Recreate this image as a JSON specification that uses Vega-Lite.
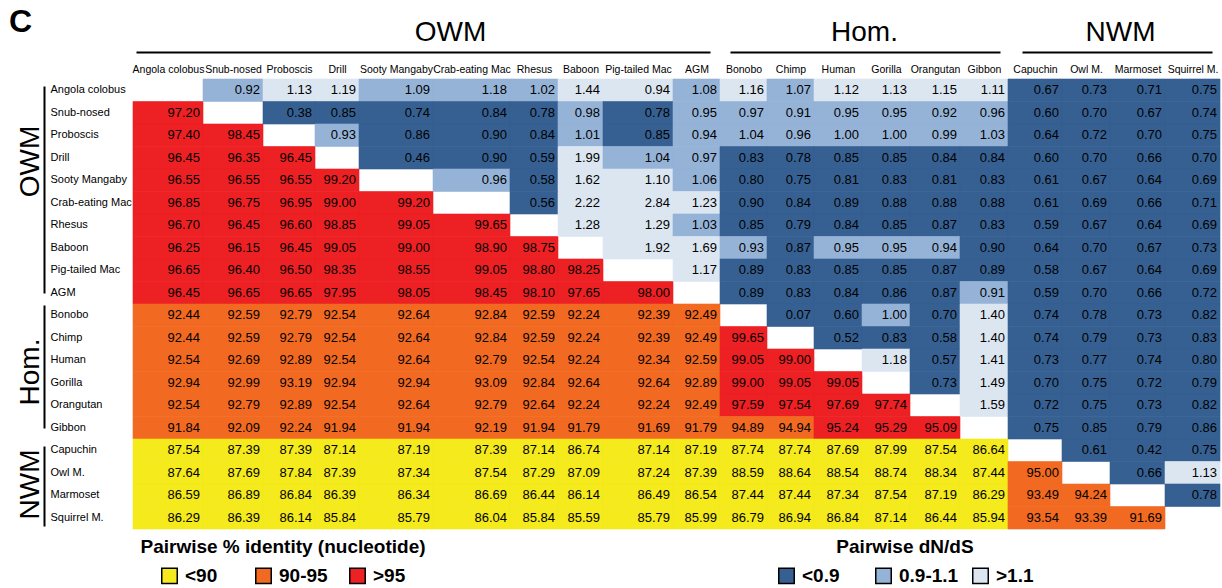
{
  "$schema": "https://vega.github.io/schema/vega-lite/v6.json",
  "background": "white",
  "padding": {"left": 9, "top": 6, "right": 0, "bottom": 0},
  "title": {"text": "C", "anchor": "start", "fontSize": 32, "fontWeight": "bold", "font": "Liberation Sans", "color": "#000", "offset": -21, "dx": -7},
  "datasets": {
    "species": [
      {"id": 0, "name": "Angola colobus", "g": "OWM", "hi": 1},
      {"id": 1, "name": "Snub-nosed", "g": "OWM", "hi": 2},
      {"id": 2, "name": "Proboscis", "g": "OWM", "hi": 3},
      {"id": 3, "name": "Drill", "g": "OWM", "hi": 4},
      {"id": 4, "name": "Sooty Mangaby", "g": "OWM", "hi": 5},
      {"id": 5, "name": "Crab-eating Mac", "g": "OWM", "hi": 6},
      {"id": 6, "name": "Rhesus", "g": "OWM", "hi": 7},
      {"id": 7, "name": "Baboon", "g": "OWM", "hi": 8},
      {"id": 8, "name": "Pig-tailed Mac", "g": "OWM", "hi": 9},
      {"id": 9, "name": "AGM", "g": "OWM", "hi": 10},
      {"id": 10, "name": "Bonobo", "g": "Hom", "hi": 11},
      {"id": 11, "name": "Chimp", "g": "Hom", "hi": 12},
      {"id": 12, "name": "Human", "g": "Hom", "hi": 13},
      {"id": 13, "name": "Gorilla", "g": "Hom", "hi": 14},
      {"id": 14, "name": "Orangutan", "g": "Hom", "hi": 15},
      {"id": 15, "name": "Gibbon", "g": "Hom", "hi": 16},
      {"id": 16, "name": "Capuchin", "g": "NWM", "hi": 17},
      {"id": 17, "name": "Owl M.", "g": "NWM", "hi": 18},
      {"id": 18, "name": "Marmoset", "g": "NWM", "hi": 19},
      {"id": 19, "name": "Squirrel M.", "g": "NWM", "hi": 20}
    ],
    "cells": [
      {"r":0,"c":1,"v":0.92,"k":"0.9-1.1"},{"r":0,"c":2,"v":1.13,"k":">1.1"},{"r":0,"c":3,"v":1.19,"k":">1.1"},{"r":0,"c":4,"v":1.09,"k":"0.9-1.1"},{"r":0,"c":5,"v":1.18,"k":"0.9-1.1"},{"r":0,"c":6,"v":1.02,"k":"0.9-1.1"},{"r":0,"c":7,"v":1.44,"k":">1.1"},{"r":0,"c":8,"v":0.94,"k":">1.1"},{"r":0,"c":9,"v":1.08,"k":"0.9-1.1"},{"r":0,"c":10,"v":1.16,"k":">1.1"},{"r":0,"c":11,"v":1.07,"k":"0.9-1.1"},{"r":0,"c":12,"v":1.12,"k":">1.1"},{"r":0,"c":13,"v":1.13,"k":">1.1"},{"r":0,"c":14,"v":1.15,"k":">1.1"},{"r":0,"c":15,"v":1.11,"k":">1.1"},{"r":0,"c":16,"v":0.67,"k":"<0.9"},{"r":0,"c":17,"v":0.73,"k":"<0.9"},{"r":0,"c":18,"v":0.71,"k":"<0.9"},{"r":0,"c":19,"v":0.75,"k":"<0.9"},

      {"r":1,"c":0,"v":97.2,"k":">95"},
      {"r":1,"c":2,"v":0.38,"k":"<0.9"},{"r":1,"c":3,"v":0.85,"k":"<0.9"},{"r":1,"c":4,"v":0.74,"k":"<0.9"},{"r":1,"c":5,"v":0.84,"k":"<0.9"},{"r":1,"c":6,"v":0.78,"k":"<0.9"},{"r":1,"c":7,"v":0.98,"k":"0.9-1.1"},{"r":1,"c":8,"v":0.78,"k":"<0.9"},{"r":1,"c":9,"v":0.95,"k":"0.9-1.1"},{"r":1,"c":10,"v":0.97,"k":"0.9-1.1"},{"r":1,"c":11,"v":0.91,"k":"0.9-1.1"},{"r":1,"c":12,"v":0.95,"k":"0.9-1.1"},{"r":1,"c":13,"v":0.95,"k":"0.9-1.1"},{"r":1,"c":14,"v":0.92,"k":"0.9-1.1"},{"r":1,"c":15,"v":0.96,"k":"0.9-1.1"},{"r":1,"c":16,"v":0.60,"k":"<0.9"},{"r":1,"c":17,"v":0.70,"k":"<0.9"},{"r":1,"c":18,"v":0.67,"k":"<0.9"},{"r":1,"c":19,"v":0.74,"k":"<0.9"},

      {"r":2,"c":0,"v":97.4,"k":">95"},{"r":2,"c":1,"v":98.45,"k":">95"},
      {"r":2,"c":3,"v":0.93,"k":"0.9-1.1"},{"r":2,"c":4,"v":0.86,"k":"<0.9"},{"r":2,"c":5,"v":0.90,"k":"<0.9"},{"r":2,"c":6,"v":0.84,"k":"<0.9"},{"r":2,"c":7,"v":1.01,"k":"0.9-1.1"},{"r":2,"c":8,"v":0.85,"k":"<0.9"},{"r":2,"c":9,"v":0.94,"k":"0.9-1.1"},{"r":2,"c":10,"v":1.04,"k":"0.9-1.1"},{"r":2,"c":11,"v":0.96,"k":"0.9-1.1"},{"r":2,"c":12,"v":1.00,"k":"0.9-1.1"},{"r":2,"c":13,"v":1.00,"k":"0.9-1.1"},{"r":2,"c":14,"v":0.99,"k":"0.9-1.1"},{"r":2,"c":15,"v":1.03,"k":"0.9-1.1"},{"r":2,"c":16,"v":0.64,"k":"<0.9"},{"r":2,"c":17,"v":0.72,"k":"<0.9"},{"r":2,"c":18,"v":0.70,"k":"<0.9"},{"r":2,"c":19,"v":0.75,"k":"<0.9"},

      {"r":3,"c":0,"v":96.45,"k":">95"},{"r":3,"c":1,"v":96.35,"k":">95"},{"r":3,"c":2,"v":96.45,"k":">95"},
      {"r":3,"c":4,"v":0.46,"k":"<0.9"},{"r":3,"c":5,"v":0.90,"k":"<0.9"},{"r":3,"c":6,"v":0.59,"k":"<0.9"},{"r":3,"c":7,"v":1.99,"k":">1.1"},{"r":3,"c":8,"v":1.04,"k":"0.9-1.1"},{"r":3,"c":9,"v":0.97,"k":"0.9-1.1"},{"r":3,"c":10,"v":0.83,"k":"<0.9"},{"r":3,"c":11,"v":0.78,"k":"<0.9"},{"r":3,"c":12,"v":0.85,"k":"<0.9"},{"r":3,"c":13,"v":0.85,"k":"<0.9"},{"r":3,"c":14,"v":0.84,"k":"<0.9"},{"r":3,"c":15,"v":0.84,"k":"<0.9"},{"r":3,"c":16,"v":0.60,"k":"<0.9"},{"r":3,"c":17,"v":0.70,"k":"<0.9"},{"r":3,"c":18,"v":0.66,"k":"<0.9"},{"r":3,"c":19,"v":0.70,"k":"<0.9"},

      {"r":4,"c":0,"v":96.55,"k":">95"},{"r":4,"c":1,"v":96.55,"k":">95"},{"r":4,"c":2,"v":96.55,"k":">95"},{"r":4,"c":3,"v":99.2,"k":">95"},
      {"r":4,"c":5,"v":0.96,"k":"0.9-1.1"},{"r":4,"c":6,"v":0.58,"k":"<0.9"},{"r":4,"c":7,"v":1.62,"k":">1.1"},{"r":4,"c":8,"v":1.10,"k":">1.1"},{"r":4,"c":9,"v":1.06,"k":"0.9-1.1"},{"r":4,"c":10,"v":0.80,"k":"<0.9"},{"r":4,"c":11,"v":0.75,"k":"<0.9"},{"r":4,"c":12,"v":0.81,"k":"<0.9"},{"r":4,"c":13,"v":0.83,"k":"<0.9"},{"r":4,"c":14,"v":0.81,"k":"<0.9"},{"r":4,"c":15,"v":0.83,"k":"<0.9"},{"r":4,"c":16,"v":0.61,"k":"<0.9"},{"r":4,"c":17,"v":0.67,"k":"<0.9"},{"r":4,"c":18,"v":0.64,"k":"<0.9"},{"r":4,"c":19,"v":0.69,"k":"<0.9"},

      {"r":5,"c":0,"v":96.85,"k":">95"},{"r":5,"c":1,"v":96.75,"k":">95"},{"r":5,"c":2,"v":96.95,"k":">95"},{"r":5,"c":3,"v":99.0,"k":">95"},{"r":5,"c":4,"v":99.2,"k":">95"},
      {"r":5,"c":6,"v":0.56,"k":"<0.9"},{"r":5,"c":7,"v":2.22,"k":">1.1"},{"r":5,"c":8,"v":2.84,"k":">1.1"},{"r":5,"c":9,"v":1.23,"k":">1.1"},{"r":5,"c":10,"v":0.90,"k":"<0.9"},{"r":5,"c":11,"v":0.84,"k":"<0.9"},{"r":5,"c":12,"v":0.89,"k":"<0.9"},{"r":5,"c":13,"v":0.88,"k":"<0.9"},{"r":5,"c":14,"v":0.88,"k":"<0.9"},{"r":5,"c":15,"v":0.88,"k":"<0.9"},{"r":5,"c":16,"v":0.61,"k":"<0.9"},{"r":5,"c":17,"v":0.69,"k":"<0.9"},{"r":5,"c":18,"v":0.66,"k":"<0.9"},{"r":5,"c":19,"v":0.71,"k":"<0.9"},

      {"r":6,"c":0,"v":96.7,"k":">95"},{"r":6,"c":1,"v":96.45,"k":">95"},{"r":6,"c":2,"v":96.6,"k":">95"},{"r":6,"c":3,"v":98.85,"k":">95"},{"r":6,"c":4,"v":99.05,"k":">95"},{"r":6,"c":5,"v":99.65,"k":">95"},
      {"r":6,"c":7,"v":1.28,"k":">1.1"},{"r":6,"c":8,"v":1.29,"k":">1.1"},{"r":6,"c":9,"v":1.03,"k":"0.9-1.1"},{"r":6,"c":10,"v":0.85,"k":"<0.9"},{"r":6,"c":11,"v":0.79,"k":"<0.9"},{"r":6,"c":12,"v":0.84,"k":"<0.9"},{"r":6,"c":13,"v":0.85,"k":"<0.9"},{"r":6,"c":14,"v":0.87,"k":"<0.9"},{"r":6,"c":15,"v":0.83,"k":"<0.9"},{"r":6,"c":16,"v":0.59,"k":"<0.9"},{"r":6,"c":17,"v":0.67,"k":"<0.9"},{"r":6,"c":18,"v":0.64,"k":"<0.9"},{"r":6,"c":19,"v":0.69,"k":"<0.9"},

      {"r":7,"c":0,"v":96.25,"k":">95"},{"r":7,"c":1,"v":96.15,"k":">95"},{"r":7,"c":2,"v":96.45,"k":">95"},{"r":7,"c":3,"v":99.05,"k":">95"},{"r":7,"c":4,"v":99.0,"k":">95"},{"r":7,"c":5,"v":98.9,"k":">95"},{"r":7,"c":6,"v":98.75,"k":">95"},
      {"r":7,"c":8,"v":1.92,"k":">1.1"},{"r":7,"c":9,"v":1.69,"k":">1.1"},{"r":7,"c":10,"v":0.93,"k":"0.9-1.1"},{"r":7,"c":11,"v":0.87,"k":"<0.9"},{"r":7,"c":12,"v":0.95,"k":"0.9-1.1"},{"r":7,"c":13,"v":0.95,"k":"0.9-1.1"},{"r":7,"c":14,"v":0.94,"k":"0.9-1.1"},{"r":7,"c":15,"v":0.90,"k":"<0.9"},{"r":7,"c":16,"v":0.64,"k":"<0.9"},{"r":7,"c":17,"v":0.70,"k":"<0.9"},{"r":7,"c":18,"v":0.67,"k":"<0.9"},{"r":7,"c":19,"v":0.73,"k":"<0.9"},

      {"r":8,"c":0,"v":96.65,"k":">95"},{"r":8,"c":1,"v":96.4,"k":">95"},{"r":8,"c":2,"v":96.5,"k":">95"},{"r":8,"c":3,"v":98.35,"k":">95"},{"r":8,"c":4,"v":98.55,"k":">95"},{"r":8,"c":5,"v":99.05,"k":">95"},{"r":8,"c":6,"v":98.8,"k":">95"},{"r":8,"c":7,"v":98.25,"k":">95"},
      {"r":8,"c":9,"v":1.17,"k":">1.1"},{"r":8,"c":10,"v":0.89,"k":"<0.9"},{"r":8,"c":11,"v":0.83,"k":"<0.9"},{"r":8,"c":12,"v":0.85,"k":"<0.9"},{"r":8,"c":13,"v":0.85,"k":"<0.9"},{"r":8,"c":14,"v":0.87,"k":"<0.9"},{"r":8,"c":15,"v":0.89,"k":"<0.9"},{"r":8,"c":16,"v":0.58,"k":"<0.9"},{"r":8,"c":17,"v":0.67,"k":"<0.9"},{"r":8,"c":18,"v":0.64,"k":"<0.9"},{"r":8,"c":19,"v":0.69,"k":"<0.9"},

      {"r":9,"c":0,"v":96.45,"k":">95"},{"r":9,"c":1,"v":96.65,"k":">95"},{"r":9,"c":2,"v":96.65,"k":">95"},{"r":9,"c":3,"v":97.95,"k":">95"},{"r":9,"c":4,"v":98.05,"k":">95"},{"r":9,"c":5,"v":98.45,"k":">95"},{"r":9,"c":6,"v":98.1,"k":">95"},{"r":9,"c":7,"v":97.65,"k":">95"},{"r":9,"c":8,"v":98.0,"k":">95"},
      {"r":9,"c":10,"v":0.89,"k":"<0.9"},{"r":9,"c":11,"v":0.83,"k":"<0.9"},{"r":9,"c":12,"v":0.84,"k":"<0.9"},{"r":9,"c":13,"v":0.86,"k":"<0.9"},{"r":9,"c":14,"v":0.87,"k":"<0.9"},{"r":9,"c":15,"v":0.91,"k":"0.9-1.1"},{"r":9,"c":16,"v":0.59,"k":"<0.9"},{"r":9,"c":17,"v":0.70,"k":"<0.9"},{"r":9,"c":18,"v":0.66,"k":"<0.9"},{"r":9,"c":19,"v":0.72,"k":"<0.9"},

      {"r":10,"c":0,"v":92.44,"k":"90-95"},{"r":10,"c":1,"v":92.59,"k":"90-95"},{"r":10,"c":2,"v":92.79,"k":"90-95"},{"r":10,"c":3,"v":92.54,"k":"90-95"},{"r":10,"c":4,"v":92.64,"k":"90-95"},{"r":10,"c":5,"v":92.84,"k":"90-95"},{"r":10,"c":6,"v":92.59,"k":"90-95"},{"r":10,"c":7,"v":92.24,"k":"90-95"},{"r":10,"c":8,"v":92.39,"k":"90-95"},{"r":10,"c":9,"v":92.49,"k":"90-95"},
      {"r":10,"c":11,"v":0.07,"k":"<0.9"},{"r":10,"c":12,"v":0.60,"k":"<0.9"},{"r":10,"c":13,"v":1.00,"k":"0.9-1.1"},{"r":10,"c":14,"v":0.70,"k":"<0.9"},{"r":10,"c":15,"v":1.40,"k":">1.1"},{"r":10,"c":16,"v":0.74,"k":"<0.9"},{"r":10,"c":17,"v":0.78,"k":"<0.9"},{"r":10,"c":18,"v":0.73,"k":"<0.9"},{"r":10,"c":19,"v":0.82,"k":"<0.9"},

      {"r":11,"c":0,"v":92.44,"k":"90-95"},{"r":11,"c":1,"v":92.59,"k":"90-95"},{"r":11,"c":2,"v":92.79,"k":"90-95"},{"r":11,"c":3,"v":92.54,"k":"90-95"},{"r":11,"c":4,"v":92.64,"k":"90-95"},{"r":11,"c":5,"v":92.84,"k":"90-95"},{"r":11,"c":6,"v":92.59,"k":"90-95"},{"r":11,"c":7,"v":92.24,"k":"90-95"},{"r":11,"c":8,"v":92.39,"k":"90-95"},{"r":11,"c":9,"v":92.49,"k":"90-95"},{"r":11,"c":10,"v":99.65,"k":">95"},
      {"r":11,"c":12,"v":0.52,"k":"<0.9"},{"r":11,"c":13,"v":0.83,"k":"<0.9"},{"r":11,"c":14,"v":0.58,"k":"<0.9"},{"r":11,"c":15,"v":1.40,"k":">1.1"},{"r":11,"c":16,"v":0.74,"k":"<0.9"},{"r":11,"c":17,"v":0.79,"k":"<0.9"},{"r":11,"c":18,"v":0.73,"k":"<0.9"},{"r":11,"c":19,"v":0.83,"k":"<0.9"},

      {"r":12,"c":0,"v":92.54,"k":"90-95"},{"r":12,"c":1,"v":92.69,"k":"90-95"},{"r":12,"c":2,"v":92.89,"k":"90-95"},{"r":12,"c":3,"v":92.54,"k":"90-95"},{"r":12,"c":4,"v":92.64,"k":"90-95"},{"r":12,"c":5,"v":92.79,"k":"90-95"},{"r":12,"c":6,"v":92.54,"k":"90-95"},{"r":12,"c":7,"v":92.24,"k":"90-95"},{"r":12,"c":8,"v":92.34,"k":"90-95"},{"r":12,"c":9,"v":92.59,"k":"90-95"},{"r":12,"c":10,"v":99.05,"k":">95"},{"r":12,"c":11,"v":99.0,"k":">95"},
      {"r":12,"c":13,"v":1.18,"k":">1.1"},{"r":12,"c":14,"v":0.57,"k":"<0.9"},{"r":12,"c":15,"v":1.41,"k":">1.1"},{"r":12,"c":16,"v":0.73,"k":"<0.9"},{"r":12,"c":17,"v":0.77,"k":"<0.9"},{"r":12,"c":18,"v":0.74,"k":"<0.9"},{"r":12,"c":19,"v":0.80,"k":"<0.9"},

      {"r":13,"c":0,"v":92.94,"k":"90-95"},{"r":13,"c":1,"v":92.99,"k":"90-95"},{"r":13,"c":2,"v":93.19,"k":"90-95"},{"r":13,"c":3,"v":92.94,"k":"90-95"},{"r":13,"c":4,"v":92.94,"k":"90-95"},{"r":13,"c":5,"v":93.09,"k":"90-95"},{"r":13,"c":6,"v":92.84,"k":"90-95"},{"r":13,"c":7,"v":92.64,"k":"90-95"},{"r":13,"c":8,"v":92.64,"k":"90-95"},{"r":13,"c":9,"v":92.89,"k":"90-95"},{"r":13,"c":10,"v":99.0,"k":">95"},{"r":13,"c":11,"v":99.05,"k":">95"},{"r":13,"c":12,"v":99.05,"k":">95"},
      {"r":13,"c":14,"v":0.73,"k":"<0.9"},{"r":13,"c":15,"v":1.49,"k":">1.1"},{"r":13,"c":16,"v":0.70,"k":"<0.9"},{"r":13,"c":17,"v":0.75,"k":"<0.9"},{"r":13,"c":18,"v":0.72,"k":"<0.9"},{"r":13,"c":19,"v":0.79,"k":"<0.9"},

      {"r":14,"c":0,"v":92.54,"k":"90-95"},{"r":14,"c":1,"v":92.79,"k":"90-95"},{"r":14,"c":2,"v":92.89,"k":"90-95"},{"r":14,"c":3,"v":92.54,"k":"90-95"},{"r":14,"c":4,"v":92.64,"k":"90-95"},{"r":14,"c":5,"v":92.79,"k":"90-95"},{"r":14,"c":6,"v":92.64,"k":"90-95"},{"r":14,"c":7,"v":92.24,"k":"90-95"},{"r":14,"c":8,"v":92.24,"k":"90-95"},{"r":14,"c":9,"v":92.49,"k":"90-95"},{"r":14,"c":10,"v":97.59,"k":">95"},{"r":14,"c":11,"v":97.54,"k":">95"},{"r":14,"c":12,"v":97.69,"k":">95"},{"r":14,"c":13,"v":97.74,"k":">95"},
      {"r":14,"c":15,"v":1.59,"k":">1.1"},{"r":14,"c":16,"v":0.72,"k":"<0.9"},{"r":14,"c":17,"v":0.75,"k":"<0.9"},{"r":14,"c":18,"v":0.73,"k":"<0.9"},{"r":14,"c":19,"v":0.82,"k":"<0.9"},

      {"r":15,"c":0,"v":91.84,"k":"90-95"},{"r":15,"c":1,"v":92.09,"k":"90-95"},{"r":15,"c":2,"v":92.24,"k":"90-95"},{"r":15,"c":3,"v":91.94,"k":"90-95"},{"r":15,"c":4,"v":91.94,"k":"90-95"},{"r":15,"c":5,"v":92.19,"k":"90-95"},{"r":15,"c":6,"v":91.94,"k":"90-95"},{"r":15,"c":7,"v":91.79,"k":"90-95"},{"r":15,"c":8,"v":91.69,"k":"90-95"},{"r":15,"c":9,"v":91.79,"k":"90-95"},{"r":15,"c":10,"v":94.89,"k":"90-95"},{"r":15,"c":11,"v":94.94,"k":"90-95"},{"r":15,"c":12,"v":95.24,"k":">95"},{"r":15,"c":13,"v":95.29,"k":">95"},{"r":15,"c":14,"v":95.09,"k":">95"},
      {"r":15,"c":16,"v":0.75,"k":"<0.9"},{"r":15,"c":17,"v":0.85,"k":"<0.9"},{"r":15,"c":18,"v":0.79,"k":"<0.9"},{"r":15,"c":19,"v":0.86,"k":"<0.9"},

      {"r":16,"c":0,"v":87.54,"k":"<90"},{"r":16,"c":1,"v":87.39,"k":"<90"},{"r":16,"c":2,"v":87.39,"k":"<90"},{"r":16,"c":3,"v":87.14,"k":"<90"},{"r":16,"c":4,"v":87.19,"k":"<90"},{"r":16,"c":5,"v":87.39,"k":"<90"},{"r":16,"c":6,"v":87.14,"k":"<90"},{"r":16,"c":7,"v":86.74,"k":"<90"},{"r":16,"c":8,"v":87.14,"k":"<90"},{"r":16,"c":9,"v":87.19,"k":"<90"},{"r":16,"c":10,"v":87.74,"k":"<90"},{"r":16,"c":11,"v":87.74,"k":"<90"},{"r":16,"c":12,"v":87.69,"k":"<90"},{"r":16,"c":13,"v":87.99,"k":"<90"},{"r":16,"c":14,"v":87.54,"k":"<90"},{"r":16,"c":15,"v":86.64,"k":"<90"},
      {"r":16,"c":17,"v":0.61,"k":"<0.9"},{"r":16,"c":18,"v":0.42,"k":"<0.9"},{"r":16,"c":19,"v":0.75,"k":"<0.9"},

      {"r":17,"c":0,"v":87.64,"k":"<90"},{"r":17,"c":1,"v":87.69,"k":"<90"},{"r":17,"c":2,"v":87.84,"k":"<90"},{"r":17,"c":3,"v":87.39,"k":"<90"},{"r":17,"c":4,"v":87.34,"k":"<90"},{"r":17,"c":5,"v":87.54,"k":"<90"},{"r":17,"c":6,"v":87.29,"k":"<90"},{"r":17,"c":7,"v":87.09,"k":"<90"},{"r":17,"c":8,"v":87.24,"k":"<90"},{"r":17,"c":9,"v":87.39,"k":"<90"},{"r":17,"c":10,"v":88.59,"k":"<90"},{"r":17,"c":11,"v":88.64,"k":"<90"},{"r":17,"c":12,"v":88.54,"k":"<90"},{"r":17,"c":13,"v":88.74,"k":"<90"},{"r":17,"c":14,"v":88.34,"k":"<90"},{"r":17,"c":15,"v":87.44,"k":"<90"},{"r":17,"c":16,"v":95.0,"k":"90-95"},
      {"r":17,"c":18,"v":0.66,"k":"<0.9"},{"r":17,"c":19,"v":1.13,"k":">1.1"},

      {"r":18,"c":0,"v":86.59,"k":"<90"},{"r":18,"c":1,"v":86.89,"k":"<90"},{"r":18,"c":2,"v":86.84,"k":"<90"},{"r":18,"c":3,"v":86.39,"k":"<90"},{"r":18,"c":4,"v":86.34,"k":"<90"},{"r":18,"c":5,"v":86.69,"k":"<90"},{"r":18,"c":6,"v":86.44,"k":"<90"},{"r":18,"c":7,"v":86.14,"k":"<90"},{"r":18,"c":8,"v":86.49,"k":"<90"},{"r":18,"c":9,"v":86.54,"k":"<90"},{"r":18,"c":10,"v":87.44,"k":"<90"},{"r":18,"c":11,"v":87.44,"k":"<90"},{"r":18,"c":12,"v":87.34,"k":"<90"},{"r":18,"c":13,"v":87.54,"k":"<90"},{"r":18,"c":14,"v":87.19,"k":"<90"},{"r":18,"c":15,"v":86.29,"k":"<90"},{"r":18,"c":16,"v":93.49,"k":"90-95"},{"r":18,"c":17,"v":94.24,"k":"90-95"},
      {"r":18,"c":19,"v":0.78,"k":"<0.9"},

      {"r":19,"c":0,"v":86.29,"k":"<90"},{"r":19,"c":1,"v":86.39,"k":"<90"},{"r":19,"c":2,"v":86.14,"k":"<90"},{"r":19,"c":3,"v":85.84,"k":"<90"},{"r":19,"c":4,"v":85.79,"k":"<90"},{"r":19,"c":5,"v":86.04,"k":"<90"},{"r":19,"c":6,"v":85.84,"k":"<90"},{"r":19,"c":7,"v":85.59,"k":"<90"},{"r":19,"c":8,"v":85.79,"k":"<90"},{"r":19,"c":9,"v":85.99,"k":"<90"},{"r":19,"c":10,"v":86.79,"k":"<90"},{"r":19,"c":11,"v":86.94,"k":"<90"},{"r":19,"c":12,"v":86.84,"k":"<90"},{"r":19,"c":13,"v":87.14,"k":"<90"},{"r":19,"c":14,"v":86.44,"k":"<90"},{"r":19,"c":15,"v":85.94,"k":"<90"},{"r":19,"c":16,"v":93.54,"k":"90-95"},{"r":19,"c":17,"v":93.39,"k":"90-95"},{"r":19,"c":18,"v":91.69,"k":"90-95"}
    ]
  },
  "data": {"name": "cells"},
  "transform": [
    {"lookup": "c", "from": {"data": {"name": "species"}, "key": "id", "fields": ["g", "hi"]}, "as": ["cg", "hi"]},
    {"lookup": "r", "from": {"data": {"name": "species"}, "key": "id", "fields": ["name", "g"]}, "as": ["row", "rg"]}
  ],
  "columns": 3,
  "spacing": 0,
  "bounds": "flush",
  "align": "each",
  "resolve": {"scale": {"x": "independent", "y": "independent"}},
  "concat": [
    {
      "width": 587, "height": 225,
      "transform": [{"filter": "datum.rg === 'OWM' && datum.cg === 'OWM'"}],
      "encoding": {
        "x": {"field": "c", "type": "quantitative",
          "scale": {"domain": [0,1,2,3,4,5,6,7,8,9,10], "range": [0,70,130,182,226,300,377,425,470,540,587], "zero": false, "nice": false},
          "axis": {"orient": "top", "title": "OWM", "values": [0.5,1.5,2.5,3.5,4.5,5.5,6.5,7.5,8.5,9.5], "labelExpr": "['Angola colobus','Snub-nosed','Proboscis','Drill','Sooty Mangaby','Crab-eating Mac','Rhesus','Baboon','Pig-tailed Mac','AGM','Bonobo','Chimp','Human','Gorilla','Orangutan','Gibbon','Capuchin','Owl M.','Marmoset','Squirrel M.'][floor(datum.value)]", "offset": 27, "labelPadding": -22, "domainDash": [574, 13], "domainDashOffset": 584, "titleX": 317}},
        "y": {"field": "row", "type": "nominal",
          "scale": {"domain": ["Angola colobus","Snub-nosed","Proboscis","Drill","Sooty Mangaby","Crab-eating Mac","Rhesus","Baboon","Pig-tailed Mac","AGM"], "paddingInner": 0, "paddingOuter": 0},
          "axis": {"orient": "left", "title": "OWM", "offset": 89, "labelPadding": -6, "labelAlign": "left", "domainDash": [207, 18], "domainDashOffset": 218, "titleY": 82}}
      },
      "layer": [
        {"transform": [{"filter": {"field": "k", "oneOf": ["<90","90-95",">95"]}}],
         "mark": {"type": "rect", "strokeWidth": 0.6},
         "encoding": {"x2": {"field": "hi"},
           "fill": {"field": "k", "type": "nominal", "scale": {"domain": ["<90","90-95",">95"], "range": ["#F4EA1C","#F26A21","#ED2024"]}, "legend": {"title": "Pairwise % identity (nucleotide)", "legendX": 7, "legendY": 459}},
           "stroke": {"field": "k", "type": "nominal", "scale": {"domain": ["<90","90-95",">95","<0.9","0.9-1.1",">1.1"], "range": ["#F4EA1C","#F26A21","#ED2024","#366092","#95B3D7","#DCE6F1"]}, "legend": null}}},
        {"transform": [{"filter": {"field": "k", "oneOf": ["<0.9","0.9-1.1",">1.1"]}}],
         "mark": {"type": "rect", "strokeWidth": 0.6},
         "encoding": {"x2": {"field": "hi"},
           "color": {"field": "k", "type": "nominal", "scale": {"domain": ["<0.9","0.9-1.1",">1.1"], "range": ["#366092","#95B3D7","#DCE6F1"]}, "legend": {"title": "Pairwise dN/dS", "legendX": 644, "legendY": 459, "columnPadding": 10}},
           "stroke": {"field": "k", "type": "nominal", "scale": {"domain": ["<90","90-95",">95","<0.9","0.9-1.1",">1.1"], "range": ["#F4EA1C","#F26A21","#ED2024","#366092","#95B3D7","#DCE6F1"]}, "legend": null}}},
        {"mark": {"type": "text", "align": "right", "dx": -3, "font": "Liberation Sans", "fontSize": 13, "fill": "#000"},
         "encoding": {
           "x": {"field": "hi", "type": "quantitative",
             "scale": {"domain": [0,1,2,3,4,5,6,7,8,9,10], "range": [0,70,130,182,226,300,377,425,470,540,587], "zero": false, "nice": false},
             "axis": {"orient": "top", "title": "OWM", "values": [0.5,1.5,2.5,3.5,4.5,5.5,6.5,7.5,8.5,9.5], "labelExpr": "['Angola colobus','Snub-nosed','Proboscis','Drill','Sooty Mangaby','Crab-eating Mac','Rhesus','Baboon','Pig-tailed Mac','AGM','Bonobo','Chimp','Human','Gorilla','Orangutan','Gibbon','Capuchin','Owl M.','Marmoset','Squirrel M.'][floor(datum.value)]", "offset": 27, "labelPadding": -22, "domainDash": [574, 13], "domainDashOffset": 584, "titleX": 317}},
           "text": {"field": "v", "type": "quantitative", "format": ".2f"}}}
      ]
    },
    {
      "width": 288, "height": 225,
      "transform": [{"filter": "datum.rg === 'OWM' && datum.cg === 'Hom'"}],
      "encoding": {
        "x": {"field": "c", "type": "quantitative",
          "scale": {"domain": [10,11,12,13,14,15,16], "range": [0,47,94,142,190,240,288], "zero": false, "nice": false},
          "axis": {"orient": "top", "title": "Hom.", "values": [10.5,11.5,12.5,13.5,14.5,15.5], "labelExpr": "['Angola colobus','Snub-nosed','Proboscis','Drill','Sooty Mangaby','Crab-eating Mac','Rhesus','Baboon','Pig-tailed Mac','AGM','Bonobo','Chimp','Human','Gorilla','Orangutan','Gibbon','Capuchin','Owl M.','Marmoset','Squirrel M.'][floor(datum.value)]", "offset": 27, "labelPadding": -22, "domainDash": [270, 18], "domainDashOffset": 278}},
        "y": {"field": "row", "type": "nominal",
          "scale": {"domain": ["Angola colobus","Snub-nosed","Proboscis","Drill","Sooty Mangaby","Crab-eating Mac","Rhesus","Baboon","Pig-tailed Mac","AGM"], "paddingInner": 0, "paddingOuter": 0},
          "axis": null}
      },
      "layer": [
        {"transform": [{"filter": {"field": "k", "oneOf": ["<90","90-95",">95"]}}],
         "mark": {"type": "rect", "strokeWidth": 0.6},
         "encoding": {"x2": {"field": "hi"},
           "fill": {"field": "k", "type": "nominal", "scale": {"domain": ["<90","90-95",">95"], "range": ["#F4EA1C","#F26A21","#ED2024"]}, "legend": {"title": "Pairwise % identity (nucleotide)", "legendX": 7, "legendY": 459}},
           "stroke": {"field": "k", "type": "nominal", "scale": {"domain": ["<90","90-95",">95","<0.9","0.9-1.1",">1.1"], "range": ["#F4EA1C","#F26A21","#ED2024","#366092","#95B3D7","#DCE6F1"]}, "legend": null}}},
        {"transform": [{"filter": {"field": "k", "oneOf": ["<0.9","0.9-1.1",">1.1"]}}],
         "mark": {"type": "rect", "strokeWidth": 0.6},
         "encoding": {"x2": {"field": "hi"},
           "color": {"field": "k", "type": "nominal", "scale": {"domain": ["<0.9","0.9-1.1",">1.1"], "range": ["#366092","#95B3D7","#DCE6F1"]}, "legend": {"title": "Pairwise dN/dS", "legendX": 644, "legendY": 459, "columnPadding": 10}},
           "stroke": {"field": "k", "type": "nominal", "scale": {"domain": ["<90","90-95",">95","<0.9","0.9-1.1",">1.1"], "range": ["#F4EA1C","#F26A21","#ED2024","#366092","#95B3D7","#DCE6F1"]}, "legend": null}}},
        {"mark": {"type": "text", "align": "right", "dx": -3, "font": "Liberation Sans", "fontSize": 13, "fill": "#000"},
         "encoding": {
           "x": {"field": "hi", "type": "quantitative",
             "scale": {"domain": [10,11,12,13,14,15,16], "range": [0,47,94,142,190,240,288], "zero": false, "nice": false},
             "axis": {"orient": "top", "title": "Hom.", "values": [10.5,11.5,12.5,13.5,14.5,15.5], "labelExpr": "['Angola colobus','Snub-nosed','Proboscis','Drill','Sooty Mangaby','Crab-eating Mac','Rhesus','Baboon','Pig-tailed Mac','AGM','Bonobo','Chimp','Human','Gorilla','Orangutan','Gibbon','Capuchin','Owl M.','Marmoset','Squirrel M.'][floor(datum.value)]", "offset": 27, "labelPadding": -22, "domainDash": [270, 18], "domainDashOffset": 278}},
           "text": {"field": "v", "type": "quantitative", "format": ".2f"}}}
      ]
    },
    {
      "width": 212, "height": 225,
      "transform": [{"filter": "datum.rg === 'OWM' && datum.cg === 'NWM'"}],
      "encoding": {
        "x": {"field": "c", "type": "quantitative",
          "scale": {"domain": [16,17,18,19,20], "range": [0,54,102,157,212], "zero": false, "nice": false},
          "axis": {"orient": "top", "title": "NWM", "values": [16.5,17.5,18.5,19.5], "labelExpr": "['Angola colobus','Snub-nosed','Proboscis','Drill','Sooty Mangaby','Crab-eating Mac','Rhesus','Baboon','Pig-tailed Mac','AGM','Bonobo','Chimp','Human','Gorilla','Orangutan','Gibbon','Capuchin','Owl M.','Marmoset','Squirrel M.'][floor(datum.value)]", "offset": 27, "labelPadding": -22, "domainDash": [190, 22], "domainDashOffset": 198, "titleX": 112}},
        "y": {"field": "row", "type": "nominal",
          "scale": {"domain": ["Angola colobus","Snub-nosed","Proboscis","Drill","Sooty Mangaby","Crab-eating Mac","Rhesus","Baboon","Pig-tailed Mac","AGM"], "paddingInner": 0, "paddingOuter": 0},
          "axis": null}
      },
      "layer": [
        {"transform": [{"filter": {"field": "k", "oneOf": ["<90","90-95",">95"]}}],
         "mark": {"type": "rect", "strokeWidth": 0.6},
         "encoding": {"x2": {"field": "hi"},
           "fill": {"field": "k", "type": "nominal", "scale": {"domain": ["<90","90-95",">95"], "range": ["#F4EA1C","#F26A21","#ED2024"]}, "legend": {"title": "Pairwise % identity (nucleotide)", "legendX": 7, "legendY": 459}},
           "stroke": {"field": "k", "type": "nominal", "scale": {"domain": ["<90","90-95",">95","<0.9","0.9-1.1",">1.1"], "range": ["#F4EA1C","#F26A21","#ED2024","#366092","#95B3D7","#DCE6F1"]}, "legend": null}}},
        {"transform": [{"filter": {"field": "k", "oneOf": ["<0.9","0.9-1.1",">1.1"]}}],
         "mark": {"type": "rect", "strokeWidth": 0.6},
         "encoding": {"x2": {"field": "hi"},
           "color": {"field": "k", "type": "nominal", "scale": {"domain": ["<0.9","0.9-1.1",">1.1"], "range": ["#366092","#95B3D7","#DCE6F1"]}, "legend": {"title": "Pairwise dN/dS", "legendX": 644, "legendY": 459, "columnPadding": 10}},
           "stroke": {"field": "k", "type": "nominal", "scale": {"domain": ["<90","90-95",">95","<0.9","0.9-1.1",">1.1"], "range": ["#F4EA1C","#F26A21","#ED2024","#366092","#95B3D7","#DCE6F1"]}, "legend": null}}},
        {"mark": {"type": "text", "align": "right", "dx": -3, "font": "Liberation Sans", "fontSize": 13, "fill": "#000"},
         "encoding": {
           "x": {"field": "hi", "type": "quantitative",
             "scale": {"domain": [16,17,18,19,20], "range": [0,54,102,157,212], "zero": false, "nice": false},
             "axis": {"orient": "top", "title": "NWM", "values": [16.5,17.5,18.5,19.5], "labelExpr": "['Angola colobus','Snub-nosed','Proboscis','Drill','Sooty Mangaby','Crab-eating Mac','Rhesus','Baboon','Pig-tailed Mac','AGM','Bonobo','Chimp','Human','Gorilla','Orangutan','Gibbon','Capuchin','Owl M.','Marmoset','Squirrel M.'][floor(datum.value)]", "offset": 27, "labelPadding": -22, "domainDash": [190, 22], "domainDashOffset": 198, "titleX": 112}},
           "text": {"field": "v", "type": "quantitative", "format": ".2f"}}}
      ]
    },
    {
      "width": 587, "height": 135,
      "transform": [{"filter": "datum.rg === 'Hom' && datum.cg === 'OWM'"}],
      "encoding": {
        "x": {"field": "c", "type": "quantitative",
          "scale": {"domain": [0,1,2,3,4,5,6,7,8,9,10], "range": [0,70,130,182,226,300,377,425,470,540,587], "zero": false, "nice": false},
          "axis": null},
        "y": {"field": "row", "type": "nominal",
          "scale": {"domain": ["Bonobo","Chimp","Human","Gorilla","Orangutan","Gibbon"], "paddingInner": 0, "paddingOuter": 0},
          "axis": {"orient": "left", "title": "Hom.", "offset": 89, "labelPadding": -6, "labelAlign": "left", "domainDash": [123, 12], "domainDashOffset": 134}}
      },
      "layer": [
        {"transform": [{"filter": {"field": "k", "oneOf": ["<90","90-95",">95"]}}],
         "mark": {"type": "rect", "strokeWidth": 0.6},
         "encoding": {"x2": {"field": "hi"},
           "fill": {"field": "k", "type": "nominal", "scale": {"domain": ["<90","90-95",">95"], "range": ["#F4EA1C","#F26A21","#ED2024"]}, "legend": {"title": "Pairwise % identity (nucleotide)", "legendX": 7, "legendY": 459}},
           "stroke": {"field": "k", "type": "nominal", "scale": {"domain": ["<90","90-95",">95","<0.9","0.9-1.1",">1.1"], "range": ["#F4EA1C","#F26A21","#ED2024","#366092","#95B3D7","#DCE6F1"]}, "legend": null}}},
        {"transform": [{"filter": {"field": "k", "oneOf": ["<0.9","0.9-1.1",">1.1"]}}],
         "mark": {"type": "rect", "strokeWidth": 0.6},
         "encoding": {"x2": {"field": "hi"},
           "color": {"field": "k", "type": "nominal", "scale": {"domain": ["<0.9","0.9-1.1",">1.1"], "range": ["#366092","#95B3D7","#DCE6F1"]}, "legend": {"title": "Pairwise dN/dS", "legendX": 644, "legendY": 459, "columnPadding": 10}},
           "stroke": {"field": "k", "type": "nominal", "scale": {"domain": ["<90","90-95",">95","<0.9","0.9-1.1",">1.1"], "range": ["#F4EA1C","#F26A21","#ED2024","#366092","#95B3D7","#DCE6F1"]}, "legend": null}}},
        {"mark": {"type": "text", "align": "right", "dx": -3, "font": "Liberation Sans", "fontSize": 13, "fill": "#000"},
         "encoding": {
           "x": {"field": "hi", "type": "quantitative",
             "scale": {"domain": [0,1,2,3,4,5,6,7,8,9,10], "range": [0,70,130,182,226,300,377,425,470,540,587], "zero": false, "nice": false},
             "axis": null},
           "text": {"field": "v", "type": "quantitative", "format": ".2f"}}}
      ]
    },
    {
      "width": 288, "height": 135,
      "transform": [{"filter": "datum.rg === 'Hom' && datum.cg === 'Hom'"}],
      "encoding": {
        "x": {"field": "c", "type": "quantitative",
          "scale": {"domain": [10,11,12,13,14,15,16], "range": [0,47,94,142,190,240,288], "zero": false, "nice": false},
          "axis": null},
        "y": {"field": "row", "type": "nominal",
          "scale": {"domain": ["Bonobo","Chimp","Human","Gorilla","Orangutan","Gibbon"], "paddingInner": 0, "paddingOuter": 0},
          "axis": null}
      },
      "layer": [
        {"transform": [{"filter": {"field": "k", "oneOf": ["<90","90-95",">95"]}}],
         "mark": {"type": "rect", "strokeWidth": 0.6},
         "encoding": {"x2": {"field": "hi"},
           "fill": {"field": "k", "type": "nominal", "scale": {"domain": ["<90","90-95",">95"], "range": ["#F4EA1C","#F26A21","#ED2024"]}, "legend": {"title": "Pairwise % identity (nucleotide)", "legendX": 7, "legendY": 459}},
           "stroke": {"field": "k", "type": "nominal", "scale": {"domain": ["<90","90-95",">95","<0.9","0.9-1.1",">1.1"], "range": ["#F4EA1C","#F26A21","#ED2024","#366092","#95B3D7","#DCE6F1"]}, "legend": null}}},
        {"transform": [{"filter": {"field": "k", "oneOf": ["<0.9","0.9-1.1",">1.1"]}}],
         "mark": {"type": "rect", "strokeWidth": 0.6},
         "encoding": {"x2": {"field": "hi"},
           "color": {"field": "k", "type": "nominal", "scale": {"domain": ["<0.9","0.9-1.1",">1.1"], "range": ["#366092","#95B3D7","#DCE6F1"]}, "legend": {"title": "Pairwise dN/dS", "legendX": 644, "legendY": 459, "columnPadding": 10}},
           "stroke": {"field": "k", "type": "nominal", "scale": {"domain": ["<90","90-95",">95","<0.9","0.9-1.1",">1.1"], "range": ["#F4EA1C","#F26A21","#ED2024","#366092","#95B3D7","#DCE6F1"]}, "legend": null}}},
        {"mark": {"type": "text", "align": "right", "dx": -3, "font": "Liberation Sans", "fontSize": 13, "fill": "#000"},
         "encoding": {
           "x": {"field": "hi", "type": "quantitative",
             "scale": {"domain": [10,11,12,13,14,15,16], "range": [0,47,94,142,190,240,288], "zero": false, "nice": false},
             "axis": null},
           "text": {"field": "v", "type": "quantitative", "format": ".2f"}}}
      ]
    },
    {
      "width": 212, "height": 135,
      "transform": [{"filter": "datum.rg === 'Hom' && datum.cg === 'NWM'"}],
      "encoding": {
        "x": {"field": "c", "type": "quantitative",
          "scale": {"domain": [16,17,18,19,20], "range": [0,54,102,157,212], "zero": false, "nice": false},
          "axis": null},
        "y": {"field": "row", "type": "nominal",
          "scale": {"domain": ["Bonobo","Chimp","Human","Gorilla","Orangutan","Gibbon"], "paddingInner": 0, "paddingOuter": 0},
          "axis": null}
      },
      "layer": [
        {"transform": [{"filter": {"field": "k", "oneOf": ["<90","90-95",">95"]}}],
         "mark": {"type": "rect", "strokeWidth": 0.6},
         "encoding": {"x2": {"field": "hi"},
           "fill": {"field": "k", "type": "nominal", "scale": {"domain": ["<90","90-95",">95"], "range": ["#F4EA1C","#F26A21","#ED2024"]}, "legend": {"title": "Pairwise % identity (nucleotide)", "legendX": 7, "legendY": 459}},
           "stroke": {"field": "k", "type": "nominal", "scale": {"domain": ["<90","90-95",">95","<0.9","0.9-1.1",">1.1"], "range": ["#F4EA1C","#F26A21","#ED2024","#366092","#95B3D7","#DCE6F1"]}, "legend": null}}},
        {"transform": [{"filter": {"field": "k", "oneOf": ["<0.9","0.9-1.1",">1.1"]}}],
         "mark": {"type": "rect", "strokeWidth": 0.6},
         "encoding": {"x2": {"field": "hi"},
           "color": {"field": "k", "type": "nominal", "scale": {"domain": ["<0.9","0.9-1.1",">1.1"], "range": ["#366092","#95B3D7","#DCE6F1"]}, "legend": {"title": "Pairwise dN/dS", "legendX": 644, "legendY": 459, "columnPadding": 10}},
           "stroke": {"field": "k", "type": "nominal", "scale": {"domain": ["<90","90-95",">95","<0.9","0.9-1.1",">1.1"], "range": ["#F4EA1C","#F26A21","#ED2024","#366092","#95B3D7","#DCE6F1"]}, "legend": null}}},
        {"mark": {"type": "text", "align": "right", "dx": -3, "font": "Liberation Sans", "fontSize": 13, "fill": "#000"},
         "encoding": {
           "x": {"field": "hi", "type": "quantitative",
             "scale": {"domain": [16,17,18,19,20], "range": [0,54,102,157,212], "zero": false, "nice": false},
             "axis": null},
           "text": {"field": "v", "type": "quantitative", "format": ".2f"}}}
      ]
    },
    {
      "width": 587, "height": 90,
      "transform": [{"filter": "datum.rg === 'NWM' && datum.cg === 'OWM'"}],
      "encoding": {
        "x": {"field": "c", "type": "quantitative",
          "scale": {"domain": [0,1,2,3,4,5,6,7,8,9,10], "range": [0,70,130,182,226,300,377,425,470,540,587], "zero": false, "nice": false},
          "axis": null},
        "y": {"field": "row", "type": "nominal",
          "scale": {"domain": ["Capuchin","Owl M.","Marmoset","Squirrel M."], "paddingInner": 0, "paddingOuter": 0},
          "axis": {"orient": "left", "title": "NWM", "offset": 89, "labelPadding": -6, "labelAlign": "left", "domainDash": [80, 10], "domainDashOffset": 83}}
      },
      "layer": [
        {"transform": [{"filter": {"field": "k", "oneOf": ["<90","90-95",">95"]}}],
         "mark": {"type": "rect", "strokeWidth": 0.6},
         "encoding": {"x2": {"field": "hi"},
           "fill": {"field": "k", "type": "nominal", "scale": {"domain": ["<90","90-95",">95"], "range": ["#F4EA1C","#F26A21","#ED2024"]}, "legend": {"title": "Pairwise % identity (nucleotide)", "legendX": 7, "legendY": 459}},
           "stroke": {"field": "k", "type": "nominal", "scale": {"domain": ["<90","90-95",">95","<0.9","0.9-1.1",">1.1"], "range": ["#F4EA1C","#F26A21","#ED2024","#366092","#95B3D7","#DCE6F1"]}, "legend": null}}},
        {"transform": [{"filter": {"field": "k", "oneOf": ["<0.9","0.9-1.1",">1.1"]}}],
         "mark": {"type": "rect", "strokeWidth": 0.6},
         "encoding": {"x2": {"field": "hi"},
           "color": {"field": "k", "type": "nominal", "scale": {"domain": ["<0.9","0.9-1.1",">1.1"], "range": ["#366092","#95B3D7","#DCE6F1"]}, "legend": {"title": "Pairwise dN/dS", "legendX": 644, "legendY": 459, "columnPadding": 10}},
           "stroke": {"field": "k", "type": "nominal", "scale": {"domain": ["<90","90-95",">95","<0.9","0.9-1.1",">1.1"], "range": ["#F4EA1C","#F26A21","#ED2024","#366092","#95B3D7","#DCE6F1"]}, "legend": null}}},
        {"mark": {"type": "text", "align": "right", "dx": -3, "font": "Liberation Sans", "fontSize": 13, "fill": "#000"},
         "encoding": {
           "x": {"field": "hi", "type": "quantitative",
             "scale": {"domain": [0,1,2,3,4,5,6,7,8,9,10], "range": [0,70,130,182,226,300,377,425,470,540,587], "zero": false, "nice": false},
             "axis": null},
           "text": {"field": "v", "type": "quantitative", "format": ".2f"}}}
      ]
    },
    {
      "width": 288, "height": 90,
      "transform": [{"filter": "datum.rg === 'NWM' && datum.cg === 'Hom'"}],
      "encoding": {
        "x": {"field": "c", "type": "quantitative",
          "scale": {"domain": [10,11,12,13,14,15,16], "range": [0,47,94,142,190,240,288], "zero": false, "nice": false},
          "axis": null},
        "y": {"field": "row", "type": "nominal",
          "scale": {"domain": ["Capuchin","Owl M.","Marmoset","Squirrel M."], "paddingInner": 0, "paddingOuter": 0},
          "axis": null}
      },
      "layer": [
        {"transform": [{"filter": {"field": "k", "oneOf": ["<90","90-95",">95"]}}],
         "mark": {"type": "rect", "strokeWidth": 0.6},
         "encoding": {"x2": {"field": "hi"},
           "fill": {"field": "k", "type": "nominal", "scale": {"domain": ["<90","90-95",">95"], "range": ["#F4EA1C","#F26A21","#ED2024"]}, "legend": {"title": "Pairwise % identity (nucleotide)", "legendX": 7, "legendY": 459}},
           "stroke": {"field": "k", "type": "nominal", "scale": {"domain": ["<90","90-95",">95","<0.9","0.9-1.1",">1.1"], "range": ["#F4EA1C","#F26A21","#ED2024","#366092","#95B3D7","#DCE6F1"]}, "legend": null}}},
        {"transform": [{"filter": {"field": "k", "oneOf": ["<0.9","0.9-1.1",">1.1"]}}],
         "mark": {"type": "rect", "strokeWidth": 0.6},
         "encoding": {"x2": {"field": "hi"},
           "color": {"field": "k", "type": "nominal", "scale": {"domain": ["<0.9","0.9-1.1",">1.1"], "range": ["#366092","#95B3D7","#DCE6F1"]}, "legend": {"title": "Pairwise dN/dS", "legendX": 644, "legendY": 459, "columnPadding": 10}},
           "stroke": {"field": "k", "type": "nominal", "scale": {"domain": ["<90","90-95",">95","<0.9","0.9-1.1",">1.1"], "range": ["#F4EA1C","#F26A21","#ED2024","#366092","#95B3D7","#DCE6F1"]}, "legend": null}}},
        {"mark": {"type": "text", "align": "right", "dx": -3, "font": "Liberation Sans", "fontSize": 13, "fill": "#000"},
         "encoding": {
           "x": {"field": "hi", "type": "quantitative",
             "scale": {"domain": [10,11,12,13,14,15,16], "range": [0,47,94,142,190,240,288], "zero": false, "nice": false},
             "axis": null},
           "text": {"field": "v", "type": "quantitative", "format": ".2f"}}}
      ]
    },
    {
      "width": 212, "height": 90,
      "transform": [{"filter": "datum.rg === 'NWM' && datum.cg === 'NWM'"}],
      "encoding": {
        "x": {"field": "c", "type": "quantitative",
          "scale": {"domain": [16,17,18,19,20], "range": [0,54,102,157,212], "zero": false, "nice": false},
          "axis": null},
        "y": {"field": "row", "type": "nominal",
          "scale": {"domain": ["Capuchin","Owl M.","Marmoset","Squirrel M."], "paddingInner": 0, "paddingOuter": 0},
          "axis": null}
      },
      "layer": [
        {"transform": [{"filter": {"field": "k", "oneOf": ["<90","90-95",">95"]}}],
         "mark": {"type": "rect", "strokeWidth": 0.6},
         "encoding": {"x2": {"field": "hi"},
           "fill": {"field": "k", "type": "nominal", "scale": {"domain": ["<90","90-95",">95"], "range": ["#F4EA1C","#F26A21","#ED2024"]}, "legend": {"title": "Pairwise % identity (nucleotide)", "legendX": 7, "legendY": 459}},
           "stroke": {"field": "k", "type": "nominal", "scale": {"domain": ["<90","90-95",">95","<0.9","0.9-1.1",">1.1"], "range": ["#F4EA1C","#F26A21","#ED2024","#366092","#95B3D7","#DCE6F1"]}, "legend": null}}},
        {"transform": [{"filter": {"field": "k", "oneOf": ["<0.9","0.9-1.1",">1.1"]}}],
         "mark": {"type": "rect", "strokeWidth": 0.6},
         "encoding": {"x2": {"field": "hi"},
           "color": {"field": "k", "type": "nominal", "scale": {"domain": ["<0.9","0.9-1.1",">1.1"], "range": ["#366092","#95B3D7","#DCE6F1"]}, "legend": {"title": "Pairwise dN/dS", "legendX": 644, "legendY": 459, "columnPadding": 10}},
           "stroke": {"field": "k", "type": "nominal", "scale": {"domain": ["<90","90-95",">95","<0.9","0.9-1.1",">1.1"], "range": ["#F4EA1C","#F26A21","#ED2024","#366092","#95B3D7","#DCE6F1"]}, "legend": null}}},
        {"mark": {"type": "text", "align": "right", "dx": -3, "font": "Liberation Sans", "fontSize": 13, "fill": "#000"},
         "encoding": {
           "x": {"field": "hi", "type": "quantitative",
             "scale": {"domain": [16,17,18,19,20], "range": [0,54,102,157,212], "zero": false, "nice": false},
             "axis": null},
           "text": {"field": "v", "type": "quantitative", "format": ".2f"}}}
      ]
    }
  ],
  "config": {
    "view": {"stroke": null},
    "axis": {"ticks": false, "tickSize": 0, "grid": false, "labelFont": "Liberation Sans", "labelFontSize": 11, "labelColor": "#000", "domainColor": "#000", "domainWidth": 2, "titleFont": "Liberation Sans", "titleFontSize": 28, "titleFontWeight": "normal", "titleColor": "#000", "titlePadding": 6, "labelOverlap": false, "labelFlush": false, "labelAngle": 0},
    "axisX": {"labelFontSize": 10.5},
    "axisY": {"labelFontSize": 11, "titlePadding": 0},
    "legend": {"orient": "none", "direction": "horizontal", "titleAnchor": "middle", "gridAlign": "all", "columnPadding": 18, "symbolType": "square", "symbolSize": 240, "symbolStrokeColor": "#000", "symbolStrokeWidth": 1.5, "labelFont": "Liberation Sans", "labelFontSize": 19, "labelFontWeight": "bold", "labelColor": "#000", "labelOffset": 6, "titleFont": "Liberation Sans", "titleFontSize": 19, "titleFontWeight": "bold", "titleColor": "#000", "titlePadding": 9, "titleLimit": 600, "labelLimit": 200}
  }
}
